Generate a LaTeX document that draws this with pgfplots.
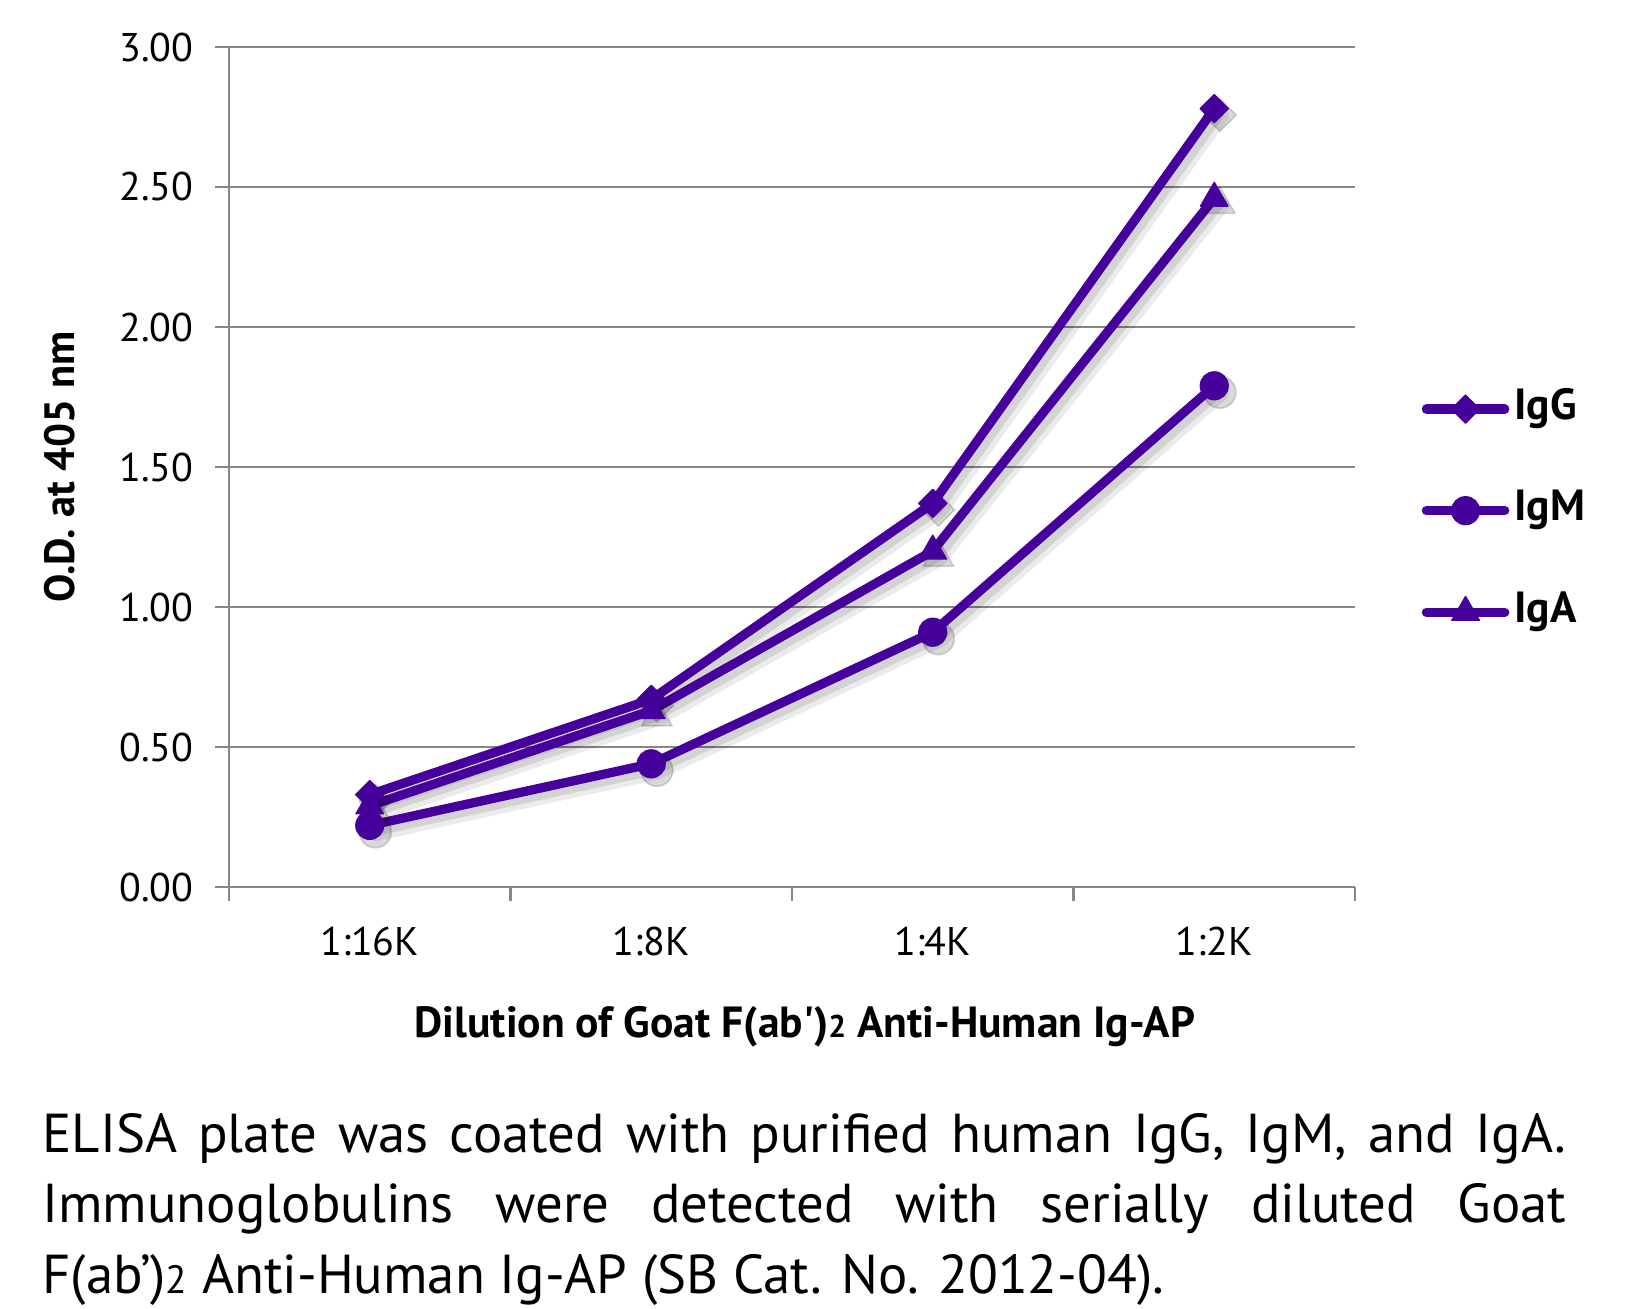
\documentclass[border=0pt]{standalone}
\usepackage{fontspec}
\setmainfont{PT Sans}
\usepackage{pgfplots}
\pgfplotsset{compat=1.18}
\usepackage{pgfplotstable}

\definecolor{ig}{HTML}{46009B}
\definecolor{gridgray}{HTML}{878787}

% dilution index, O.D. at 405 nm
\pgfplotstableread{
x  IgG   IgM   IgA
0  0.33  0.22  0.29
1  0.67  0.44  0.63
2  1.37  0.91  1.20
3  2.78  1.79  2.46
}\elisa

\pgfplotsset{
  shadowline/.style={forget plot, black, opacity=0.08, line width=4.4pt, xshift=1.5pt, yshift=-1.7pt},
  shadowcore/.style={forget plot, black, opacity=0.10, line width=2.6pt, xshift=1.2pt, yshift=-1.4pt},
  shadowmark/.style={forget plot, only marks, black, opacity=0.15, xshift=1.4pt, yshift=-1.6pt},
}

\begin{document}
\begin{tikzpicture}
  \begin{axis}[
    at={(57.25pt,105.25pt)}, anchor=south west,
    scale only axis, width=281.5pt, height=210pt,
    xmin=-0.5, xmax=3.5, ymin=0, ymax=3,
    axis x line*=bottom, axis y line*=left,
    axis line style={draw=gridgray, line width=0.7pt},
    tick align=outside,
    major tick length=3.4pt,
    tick style={draw=gridgray, line width=0.7pt},
    xtick={0,1,2,3},
    xticklabels={1:16K,1:8K,1:4K,1:2K},
    xtick style={/pgfplots/major tick length=0pt},
    extra x ticks={-0.5,0.5,1.5,2.5,3.5},
    extra x tick labels={},
    extra x tick style={
      xtick style={/pgfplots/major tick length=3.4pt},
    },
    ytick={0,0.5,...,3},
    yticklabel style={/pgf/number format/fixed, /pgf/number format/fixed zerofill, /pgf/number format/precision=2, xshift=-2pt},
    /pgf/number format/assume math mode=true,
    ticklabel style={font=\fontsize{10}{12}\selectfont},
    xticklabel style={yshift=-3pt},
    ymajorgrids=true,
    grid style={draw=gridgray, line width=0.7pt},
    xlabel={Dilution of Goat F(ab\textquotesingle)\scalebox{0.72}{2} Anti-Human Ig-AP},
    ylabel={O.D. at 405 nm},
    label style={font=\bfseries\fontsize{10.9}{13}\selectfont},
    x label style={at={(axis description cs:0.5115,-0.1667)}, anchor=center},
    y label style={at={(axis description cs:-0.1508,0.5)}, anchor=center, font=\bfseries\fontsize{10.6}{13}\selectfont},
    legend style={
      at={(axis description cs:1.0586,0.4480)}, anchor=west,
      draw=none, fill=none, inner sep=0pt,
      row sep=15.4pt, column sep=1.3pt,
      font=\bfseries\fontsize{10.9}{13}\selectfont,
      nodes={inner sep=0pt, text height=7.5pt, text depth=2.5pt},
    },
    legend cell align=left,
    legend image code/.code={
      \draw[mark repeat=2, mark phase=2]
        plot coordinates {(1.2pt,0pt)(11pt,0pt)(20.8pt,0pt)};
    },
    every axis plot/.append style={line join=round, line cap=round},
  ]
    % soft drop shadows
    \addplot[shadowline] table[x=x, y=IgG] {\elisa};
    \addplot[shadowline] table[x=x, y=IgM] {\elisa};
    \addplot[shadowline] table[x=x, y=IgA] {\elisa};
    \addplot[shadowcore] table[x=x, y=IgG] {\elisa};
    \addplot[shadowcore] table[x=x, y=IgM] {\elisa};
    \addplot[shadowcore] table[x=x, y=IgA] {\elisa};
    \addplot[shadowmark, mark=square*, mark size=2.9pt, mark options={rotate=45}] table[x=x, y=IgG] {\elisa};
    \addplot[shadowmark, mark=*, mark size=4pt] table[x=x, y=IgM] {\elisa};
    \addplot[shadowmark, mark=triangle*, mark size=4.4pt] table[x=x, y=IgA] {\elisa};

    \addplot[ig, line width=2.3pt, mark=square*, mark size=2.5pt,
      mark options={solid, rotate=45, line width=0.3pt, fill=ig}] table[x=x, y=IgG] {\elisa};
    \addplot[ig, line width=2.3pt, mark=*, mark size=3.5pt,
      mark options={solid, line width=0.3pt, fill=ig}] table[x=x, y=IgM] {\elisa};
    \addplot[ig, line width=2.3pt, mark=triangle*, mark size=4pt,
      mark options={solid, line width=0.3pt, fill=ig}] table[x=x, y=IgA] {\elisa};
    \legend{IgG, IgM, IgA}
  \end{axis}

  \begin{scope}[every node/.style={inner sep=0pt, anchor=base west, font=\fontsize{13.7}{16}\selectfont}]
    \node at (10.4pt,38.9pt) {\makebox[381pt][s]{ELISA plate was coated with purified human IgG, IgM, and IgA.}};
    \node at (10.4pt,21.3pt) {\makebox[381pt][s]{Immunoglobulins were detected with serially diluted Goat}};
    \node at (10.4pt,3.7pt) {F(ab’)\scalebox{0.72}{2} Anti-Human Ig-AP (SB Cat. No. 2012-04).};
  \end{scope}

  \pgfresetboundingbox
  \path[use as bounding box] (0,0) rectangle (406.5pt,327pt);
\end{tikzpicture}
\end{document}
